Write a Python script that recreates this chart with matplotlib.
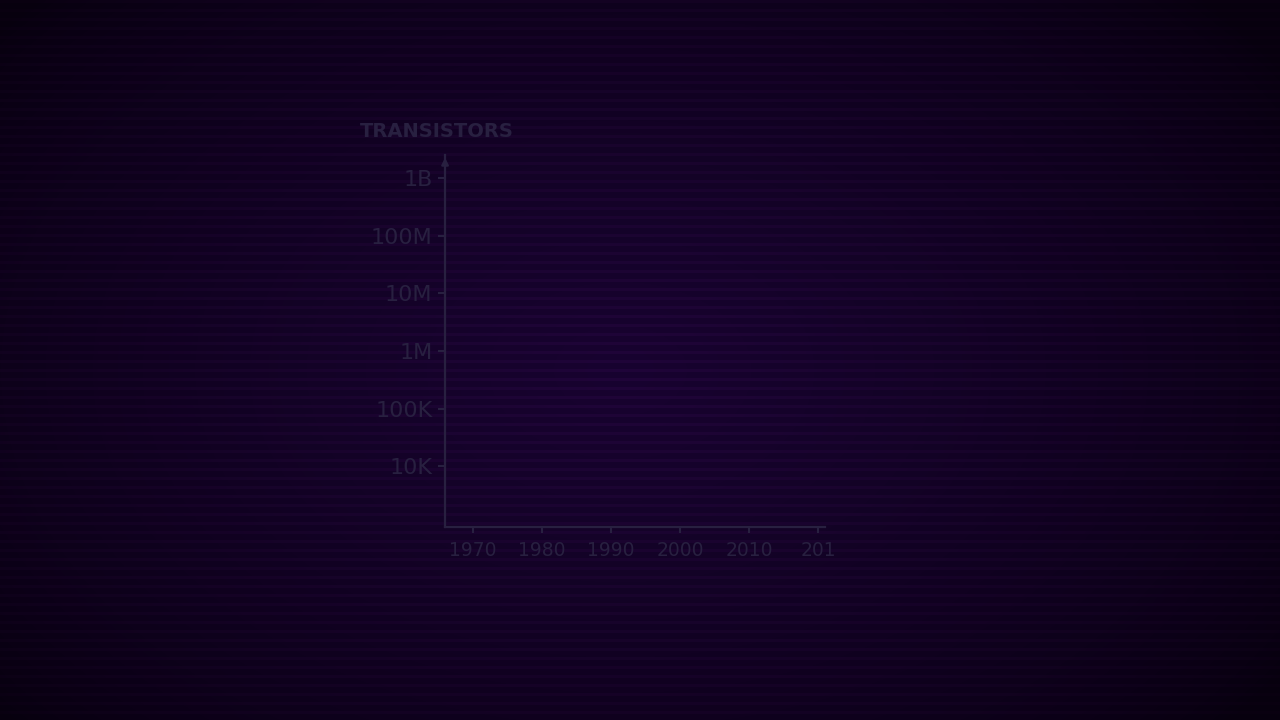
import numpy as np
import matplotlib.pyplot as plt
from matplotlib.ticker import FixedLocator, NullLocator

# axis content (chart is empty, only axes are drawn)
y_ticks = [1e4, 1e5, 1e6, 1e7, 1e8, 1e9]
y_labels = ['10K', '100K', '1M', '10M', '100M', '1B']
x_ticks = [1970, 1980, 1990, 2000, 2010, 2020]
x_labels = ['1970', '1980', '1990', '2000', '2010', '201']
y_title = 'TRANSISTORS'

ink = '#282040'

fig = plt.figure(figsize=(12.8, 7.2), dpi=100)

# background: dark purple vignette with scanlines
h, w = 720, 1280
yy, xx = np.mgrid[0:h, 0:w]
d = np.sqrt(((xx - 620) / 800.0) ** 2 + ((yy - 370) / 540.0) ** 2)
v = np.clip(1.0 - d, 0, 1) ** 0.7
center = np.array([0x18, 0x03, 0x30]) / 255.0
edge = np.array([0x07, 0x00, 0x0e]) / 255.0
img = edge + (center - edge) * v[..., None]
scan = ((yy % 9) < 3).astype(float)
img = img + scan[..., None] * np.array([0.022, 0.005, 0.026]) * (0.4 + v[..., None])
img = np.clip(img, 0, 1)
bg = fig.add_axes([0, 0, 1, 1])
bg.imshow(img, aspect='auto', interpolation='nearest')
bg.axis('off')

ax = fig.add_axes([0.3477, 0.268, 0.297, 0.517])
ax.patch.set_alpha(0)
ax.set_yscale('log')
ax.set_xlim(1966, 2021)
ax.set_ylim(10 ** 2.95, 10 ** 9.4)

for s in ['top', 'right']:
    ax.spines[s].set_visible(False)
for s in ['left', 'bottom']:
    ax.spines[s].set_color(ink)
    ax.spines[s].set_linewidth(1.6)

ax.yaxis.set_major_locator(FixedLocator(y_ticks))
ax.yaxis.set_minor_locator(NullLocator())
ax.set_yticklabels(y_labels)
ax.set_xticks(x_ticks)
ax.set_xticklabels(x_labels)
ax.tick_params(axis='y', colors=ink, labelsize=16, length=5, width=1.5, pad=4)
ax.tick_params(axis='x', colors=ink, labelsize=13.5, length=4, width=1.5,
               direction='out', pad=6)

# arrow head on top of y axis
ax.annotate('', xy=(0, 1.0), xytext=(0, 0.96), xycoords='axes fraction',
            arrowprops=dict(arrowstyle='-|>', color=ink, lw=1.6))

fig.text(0.341, 0.818, y_title, ha='center', va='center', color=ink,
         fontsize=14, fontweight='bold')

fig.savefig('out.png', dpi=100)
